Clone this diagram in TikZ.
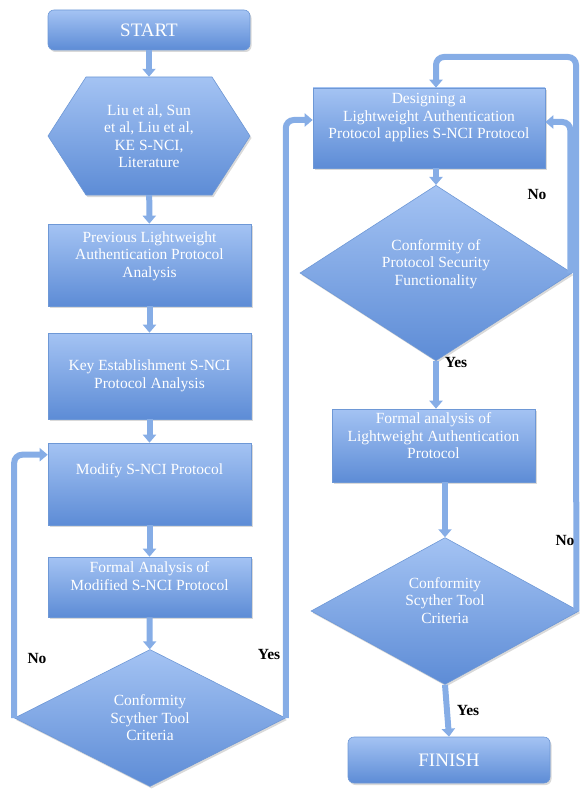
\documentclass[tikz,border=0pt]{standalone}
\usepackage{fontspec}
\setmainfont{Liberation Serif}
\usetikzlibrary{arrows.meta,shapes.geometric,shadows,calc}
\definecolor{boxtop}{HTML}{A4C3F3}
\definecolor{boxbot}{HTML}{5D8CD6}
\definecolor{boxedge}{HTML}{6E98D6}
\definecolor{arrowc}{HTML}{86ADE6}
\begin{document}
\begin{tikzpicture}[x=1pt,y=-1pt,
  shade/.style={draw=boxedge, line width=0.6pt, top color=boxtop, bottom color=boxbot,
    drop shadow={opacity=0.3, shadow xshift=1.5pt, shadow yshift=-2pt}},
  flowbox/.style={rectangle, shade, text=white, font=\fontsize{15.5}{17.5}\selectfont, align=center, inner sep=0pt},
  termbox/.style={flowbox, rounded corners=6pt, font=\fontsize{19}{22}\selectfont},
  decision/.style={diamond, shade, text=white, font=\fontsize{15.5}{17.5}\selectfont, align=center, inner sep=0pt},
  txt/.style={text=white, font=\fontsize{15.5}{17.5}\selectfont, align=center, inner sep=0pt},
  arr/.style={draw=arrowc, line width=6pt, -{Triangle[width=13pt,length=8pt]}, rounded corners=8pt},
  lbl/.style={font=\fontsize{15.5}{17}\selectfont\bfseries, text=black, inner sep=0pt}
]
\useasboundingbox (0,0) rectangle (579,789);

% left column
\node[termbox, minimum width=202pt, minimum height=40pt] (start) at (149,30) {START};

\path[shade] (48,136) -- (86,77) -- (212,77) -- (250,136) -- (212,195) -- (86,195) -- cycle;
\node[txt, minimum width=202pt, minimum height=118pt] (hex) at (149,136)
  {Liu et al, Sun\\et al, Liu et al,\\KE S-NCI,\\Literature};

\node[flowbox, minimum width=203pt, minimum height=82pt] (prev) at (149.5,265)
  {Previous Lightweight\\Authentication Protocol\\Analysis\\[4pt]};
\node[flowbox, minimum width=203pt, minimum height=86pt] (key) at (149.5,376)
  {Key Establishment S-NCI\\Protocol Analysis};
\node[flowbox, minimum width=203pt, minimum height=82pt] (modify) at (149.5,484)
  {Modify S-NCI Protocol\\[12pt]};
\node[flowbox, minimum width=203pt, minimum height=60pt] (formalmod) at (149.5,587)
  {Formal Analysis of\\Modified S-NCI Protocol\\[4pt]};
\node[decision, minimum width=271pt, minimum height=137pt] (dmain) at (150,718)
  {Conformity\\Scyther Tool\\Criteria};

% right column
\node[flowbox, minimum width=232pt, minimum height=80pt] (design) at (429,128)
  {Designing a\\Lightweight Authentication\\Protocol applies S-NCI Protocol\\[6pt]};
\node[decision, minimum width=272pt, minimum height=142pt] (d1) at (436,273)
  {Conformity of\\Protocol Security\\Functionality\\[4pt]};
\node[flowbox, minimum width=203pt, minimum height=73pt] (formal2) at (433.5,445.5)
  {Formal analysis of\\Lightweight Authentication\\Protocol\\[2pt]};
\node[decision, minimum width=268pt, minimum height=146pt] (d2) at (445,611)
  {Conformity\\Scyther Tool\\Criteria\\[4pt]};
\node[termbox, minimum width=202pt, minimum height=46pt] (finish) at (449,760) {FINISH};

% straight connectors
\draw[arr] (start) -- (hex);
\draw[arr] (hex) -- (prev);
\draw[arr] (prev) -- (key);
\draw[arr] (key) -- (modify);
\draw[arr] (modify) -- (formalmod);
\draw[arr] (formalmod) -- (dmain);
\draw[arr] (design.south -| d1.north) -- (d1.north);
\draw[arr] (d1.south) -- (d1.south |- formal2.north);
\draw[arr] (formal2.south -| d2.north) -- (d2.north);
\draw[arr] (d2.south) -- (finish.north);

% loops
\draw[arr] (dmain.west) |- ([yshift=-12pt]modify.north west);
\draw[arr] (dmain.east) |- ([yshift=8pt]design.west);
\draw[arr] ([xshift=-2pt]d1.east) |- ([yshift=6pt]design.east);
\coordinate (topc) at (576,57);
\draw[arr] ([xshift=-3pt]d2.east) -- (topc) -| ([xshift=7pt]design.north);

% labels
\node[lbl] (no1) at (37,658) {No};
\node[lbl] (yes1) at (269,654) {Yes};
\node[lbl] (no2) at (537,195) {No};
\node[lbl] (yes2) at (456,362) {Yes};
\node[lbl] (no3) at (565,540) {No};
\node[lbl] (yes3) at (468,710) {Yes};
\end{tikzpicture}
\end{document}
